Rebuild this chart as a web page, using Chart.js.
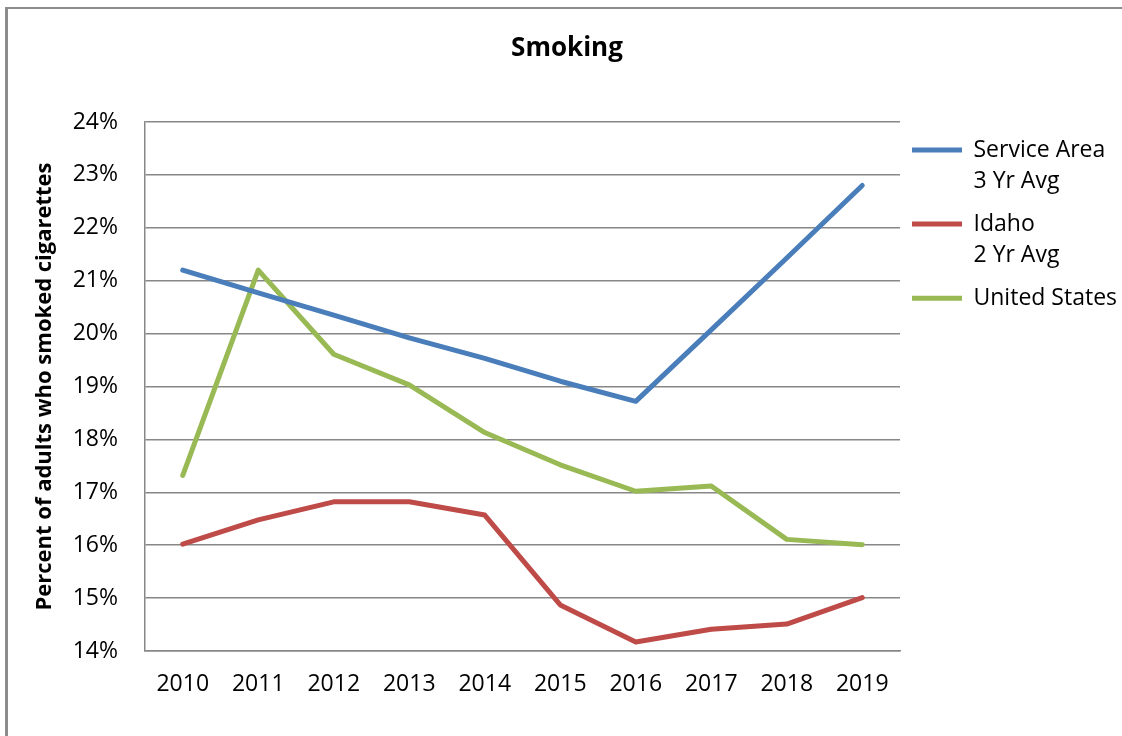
<!DOCTYPE html>
<html>
<head>
<meta charset="utf-8">
<title>Smoking</title>
<script src="https://cdn.jsdelivr.net/npm/chart.js@4.4.1/dist/chart.umd.min.js"></script>
<style>
  html, body { margin: 0; padding: 0; background: #fff; }
  #wrap { position: relative; width: 1122px; height: 736px; overflow: hidden; }
  #frame {
    position: absolute; left: 5px; top: 7px; width: 1200px; height: 800px;
    border-left: 3px solid #8c8c8c; border-top: 2px solid #8c8c8c;
  }
  #smokingChart { position: absolute; left: 0; top: 0; }
</style>
</head>
<body>
<div id="wrap">
  <div id="frame"></div>
  <canvas id="smokingChart" width="1122" height="736"></canvas>
</div>
<script>
const years = ['2010', '2011', '2012', '2013', '2014', '2015', '2016', '2017', '2018', '2019'];
const serviceArea = [21.2, 20.77, 20.35, 19.92, 19.53, 19.1, 18.72, 20.07, 21.43, 22.8];
const idaho = [16.02, 16.48, 16.82, 16.82, 16.57, 14.87, 14.17, 14.41, 14.51, 15.01];
const unitedStates = [17.32, 21.2, 19.61, 19.03, 18.13, 17.52, 17.02, 17.12, 16.11, 16.01];
const seriesNames = [['Service Area', '3 Yr Avg'], ['Idaho', '2 Yr Avg'], ['United States']];
const seriesColors = ['#4a7ebb', '#be4b48', '#98b954'];
const yMin = 14;
const yMax = 24;
const yStep = 1;

const gridColor = '#878787';
const LEGEND_W = 222;

Chart.defaults.font.family = "'Open Sans', sans-serif";
Chart.defaults.font.size = 23;
Chart.defaults.color = '#000';

// keep the legend column a fixed width so the plot ends where it should
const fixedLegend = {
  id: 'fixedLegend',
  beforeLayout(chart) {
    const lg = chart.legend;
    if (lg && !lg._fixed) {
      const fit = lg.fit.bind(lg);
      lg.fit = function () {
        fit();
        this.width = LEGEND_W;
      };
      lg._fixed = true;
    }
  }
};

function line(label, data, color) {
  return {
    label: label,
    data: data,
    borderColor: color,
    backgroundColor: color,
    borderWidth: 5,
    borderCapStyle: 'round',
    borderJoinStyle: 'round',
    pointRadius: 0,
    pointHoverRadius: 0,
    tension: 0,
    fill: false
  };
}

const ctx = document.getElementById('smokingChart');
new Chart(ctx, {
  type: 'line',
  data: {
    labels: years,
    datasets: [
      line(seriesNames[0], serviceArea, seriesColors[0]),
      line(seriesNames[1], idaho, seriesColors[1]),
      line(seriesNames[2], unitedStates, seriesColors[2])
    ]
  },
  plugins: [fixedLegend],
  options: {
    responsive: false,
    animation: false,
    devicePixelRatio: 1,
    layout: { padding: { left: 12, right: 0, top: 0, bottom: 0 } },
    plugins: {
      tooltip: { enabled: false },
      title: {
        display: true,
        text: 'Smoking',
        font: { size: 26, weight: 'bold' },
        color: '#000',
        padding: { top: 33, bottom: 57.8 }
      },
      legend: {
        position: 'right',
        align: 'start',
        fullSize: false,
        title: { display: true, text: '', font: { size: 1, lineHeight: 1 }, padding: { top: 3.5, bottom: 0 } },
        labels: {
          usePointStyle: true,
          pointStyle: 'line',
          pointStyleWidth: 50,
          padding: 12,
          color: '#000',
          font: { size: 23, lineHeight: 1.35 }
        }
      }
    },
    scales: {
      x: {
        offset: true,
        afterFit(scale) { scale.height = 85; },
        grid: { display: false, drawTicks: false },
        border: { display: true, color: gridColor, width: 1.5 },
        ticks: { padding: 20, maxRotation: 0, autoSkip: false }
      },
      y: {
        min: yMin,
        max: yMax,
        afterFit(scale) { scale.width = 133; },
        grid: { color: gridColor, lineWidth: 1.5, drawTicks: false },
        border: { display: true, color: gridColor, width: 1.5 },
        ticks: {
          stepSize: yStep,
          padding: 27,
          callback: (v) => v + '%'
        },
        title: {
          display: true,
          text: 'Percent of adults who smoked cigarettes',
          font: { size: 22, weight: 'bold' },
          color: '#000',
          padding: { top: 20, bottom: 0 }
        }
      }
    }
  }
});
</script>
</body>
</html>
